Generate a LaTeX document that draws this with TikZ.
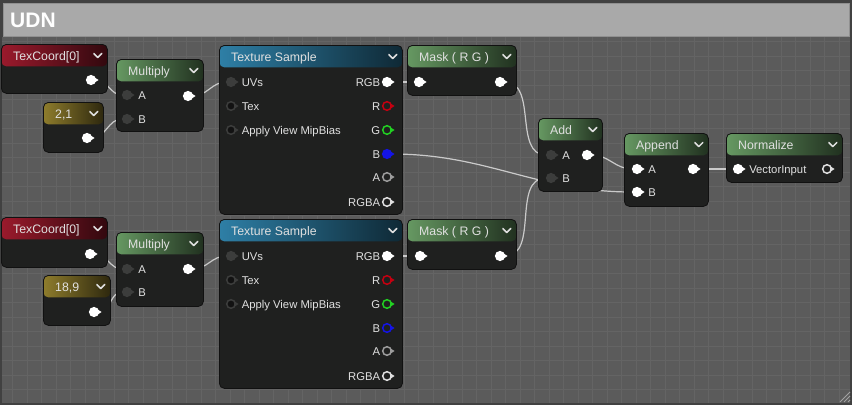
\documentclass[tikz,border=0pt]{standalone}
\usepackage{fontspec}
\setmainfont{Liberation Sans}
\usetikzlibrary{positioning,calc}

\definecolor{frameedge}{HTML}{414141}
\definecolor{canvasbg}{HTML}{5B5B5B}
\definecolor{gridline}{HTML}{646464}
\definecolor{titlebar}{HTML}{A9A9A9}
\definecolor{nodebg}{HTML}{1F201F}
\definecolor{nodeedge}{HTML}{111111}
\definecolor{hdrred}{HTML}{9A1A2C}
\definecolor{hdryellow}{HTML}{8E7C2C}
\definecolor{hdrgreen}{HTML}{669862}
\definecolor{hdrblue}{HTML}{2E7FA6}
\definecolor{wirecol}{HTML}{CACACA}
\definecolor{pindim}{HTML}{3C3D3C}
\definecolor{pinblack}{HTML}{121212}
\definecolor{pinred}{HTML}{C40010}
\definecolor{pingreen}{HTML}{22D022}
\definecolor{pinblue}{HTML}{1414E6}
\definecolor{pingray}{HTML}{9C9C9C}
\definecolor{txtcol}{HTML}{E0E0E0}

\pgfdeclarelayer{canvas}
\pgfdeclarelayer{wires}
\pgfsetlayers{canvas,wires,main}

% pin: name, position, fill, ring
\newcommand{\uepin}[4]{%
  \node[pinball, fill=#3, draw=#4] (#1) at (#2) {};
  \fill[#4] ([shift={(3.2pt,2.8pt)}]#1.center) -- ([xshift=7.6pt]#1.center) -- ([shift={(3.2pt,-2.8pt)}]#1.center) -- cycle;
}

\begin{document}
\begin{tikzpicture}[x=1pt, y=-1pt]
    \tikzstyle{pinball} = [circle, minimum size=8.6pt, inner sep=0pt, line width=1.5pt]
    \tikzstyle{hdrtxt} = [anchor=west, text=txtcol, font=\fontsize{12.3}{14}\selectfont, inner sep=0pt, text height=8.8pt, text depth=0pt]
    \tikzstyle{pinlbl} = [text=txtcol, font=\fontsize{11.3}{13}\selectfont, inner sep=0pt, text height=8.1pt, text depth=0pt]
    \tikzstyle{chev} = [draw=txtcol, line width=1.5pt, line cap=round, line join=round]
    \tikzstyle{wire} = [draw=wirecol, line width=1.2pt]
    \tikzset{uenode/.style={rectangle, rounded corners=5pt, draw=nodeedge, line width=0.8pt, fill=nodebg, anchor=north west, inner sep=0pt,
        path picture={\shade[left color=#1, right color=#1!32!black] (path picture bounding box.north west) rectangle ([yshift=-22pt]path picture bounding box.north east);}}}

    \useasboundingbox (0,0) rectangle (852,405);

    % window, title bar and grid
    \begin{pgfonlayer}{canvas}
        \fill[frameedge] (0,0) rectangle (852,405);
        \fill[canvasbg] (2,37) rectangle (850,403);
        \foreach \i in {0,...,57}
            \draw[gridline, line width=0.7pt] ({12.5+14.5*\i},37) -- ({12.5+14.5*\i},403);
        \foreach \j in {0,...,24}
            \draw[gridline, line width=0.7pt] (2,{41.5+14.5*\j}) -- (850,{41.5+14.5*\j});
        \filldraw[fill=titlebar, draw=titlebar!85!black, line width=0.8pt] (3,3) rectangle (849,36);
        \foreach \k in {0,1,2}
            \draw[gridline!60!white, line width=1pt] ({840+4*\k},402) -- (850,{392+4*\k});
    \end{pgfonlayer}
    \node[anchor=west, text=white, font=\bfseries\fontsize{21}{24}\selectfont, inner sep=0pt, text height=15pt, text depth=0pt] (title) at (10,19.5) {UDN};

    % nodes
    \node[uenode=hdrred, minimum width=106pt, minimum height=49pt] (tcA) at (1,44) {};
    \node[uenode=hdryellow, minimum width=60pt, minimum height=50pt] (cA) at (43,102) {};
    \node[uenode=hdrgreen, minimum width=87pt, minimum height=72pt] (mulA) at (116,59) {};
    \node[uenode=hdrblue, minimum width=183pt, minimum height=169pt] (tsA) at (219,45) {};
    \node[uenode=hdrgreen, minimum width=109pt, minimum height=50pt] (mskA) at (407,45) {};
    \node[uenode=hdrgreen, minimum width=64pt, minimum height=73pt] (add) at (538,118) {};
    \node[uenode=hdrgreen, minimum width=84pt, minimum height=73pt] (app) at (624,133) {};
    \node[uenode=hdrgreen, minimum width=116pt, minimum height=49pt] (nrm) at (726,133) {};
    \node[uenode=hdrred, minimum width=106pt, minimum height=50pt] (tcB) at (1,217) {};
    \node[uenode=hdryellow, minimum width=67pt, minimum height=50pt] (cB) at (43,275) {};
    \node[uenode=hdrgreen, minimum width=87pt, minimum height=74pt] (mulB) at (116,232) {};
    \node[uenode=hdrblue, minimum width=183pt, minimum height=169pt] (tsB) at (219,219) {};
    \node[uenode=hdrgreen, minimum width=109pt, minimum height=50pt] (mskB) at (407,219) {};

    % titles and chevrons
    \foreach \n/\t in {tcA/TexCoord[0], cA/{2,1}, mulA/Multiply, tsA/Texture Sample, mskA/{Mask ( R G )}, add/Add, app/Append, nrm/Normalize, tcB/TexCoord[0], cB/{18,9}, mulB/Multiply, tsB/Texture Sample, mskB/{Mask ( R G )}} {
        \node[hdrtxt] (\n-t) at ($(\n.north west)+(12,11.8)$) {\t};
        \draw[chev] ($(\n.north east)+(-14,9.5)$) -- ++(4,4) -- ++(4,-4);
    }

    % pins of the small nodes
    \uepin{tcA-o}{91,80}{white}{white}
    \uepin{cA-o}{87,138}{white}{white}
    \uepin{mulA-a}{127,95}{pindim}{pindim}
    \uepin{mulA-b}{127,119}{pindim}{pindim}
    \uepin{mulA-o}{188,96}{white}{white}
    \uepin{tcB-o}{90,254}{white}{white}
    \uepin{cB-o}{94,312}{white}{white}
    \uepin{mulB-a}{127,269}{pindim}{pindim}
    \uepin{mulB-b}{127,292}{pindim}{pindim}
    \uepin{mulB-o}{188,269}{white}{white}
    \foreach \n in {mulA, mulB} {
        \node[pinlbl, right=6pt of \n-a] (\n-al) {A};
        \node[pinlbl, right=6pt of \n-b] (\n-bl) {B};
    }

    % texture samples
    \foreach \s/\r in {tsA/82, tsB/256} {
        \uepin{\s-uv}{231,\r}{pindim}{pindim}
        \uepin{\s-tex}{231,\r+24}{pinblack}{pindim}
        \uepin{\s-mip}{231,\r+48}{pinblack}{pindim}
        \uepin{\s-rgb}{387,\r}{white}{white}
        \uepin{\s-r}{387,\r+24}{nodebg}{pinred}
        \uepin{\s-g}{387,\r+48}{nodebg}{pingreen}
        \uepin{\s-a}{387,\r+95}{nodebg}{pingray}
        \uepin{\s-rgba}{387,\r+120}{nodebg}{txtcol}
        \node[pinlbl, right=5.5pt of \s-uv] (\s-uvl) {UVs};
        \node[pinlbl, right=5.5pt of \s-tex] (\s-texl) {Tex};
        \node[pinlbl, right=5.5pt of \s-mip] (\s-mipl) {Apply View MipBias};
        \node[pinlbl, left=1.5pt of \s-rgb] (\s-rgbl) {RGB};
        \node[pinlbl, left=1.5pt of \s-r] (\s-rl) {R};
        \node[pinlbl, left=1.5pt of \s-g] (\s-gl) {G};
        \node[pinlbl, left=1.5pt of \s-a] (\s-al) {A};
        \node[pinlbl, left=1.5pt of \s-rgba] (\s-rgbal) {RGBA};
    }
    \uepin{tsA-b}{387,154}{pinblue}{pinblue}
    \uepin{tsB-b}{387,328}{nodebg}{pinblue}
    \node[pinlbl, left=1.5pt of tsA-b] (tsA-bl) {B};
    \node[pinlbl, left=1.5pt of tsB-b] (tsB-bl) {B};

    % masks, add, append, normalize
    \uepin{mskA-i}{419,82}{white}{white}
    \uepin{mskA-o}{500,82}{white}{white}
    \uepin{mskB-i}{420,256}{white}{white}
    \uepin{mskB-o}{500,256}{white}{white}
    \uepin{add-a}{551,155}{pindim}{pindim}
    \uepin{add-b}{551,178}{pindim}{pindim}
    \uepin{add-o}{587,155}{white}{white}
    \uepin{app-a}{637,169}{white}{white}
    \uepin{app-b}{637,192}{white}{white}
    \uepin{app-o}{693,169}{white}{white}
    \uepin{nrm-i}{738,169}{white}{white}
    \uepin{nrm-o}{827,169}{nodebg}{txtcol}
    \node[pinlbl, right=6pt of add-a] (add-al) {A};
    \node[pinlbl, right=6pt of add-b] (add-bl) {B};
    \node[pinlbl, right=6pt of app-a] (app-al) {A};
    \node[pinlbl, right=6pt of app-b] (app-bl) {B};
    \node[pinlbl, right=6pt of nrm-i] (nrm-il) {VectorInput};

    % wires
    \begin{pgfonlayer}{wires}
        \draw[wire] (tcA-o.east) to[out=0, in=180] (mulA-a.west);
        \draw[wire] (cA-o.east) to[out=0, in=180] (mulA-b.west);
        \draw[wire] (mulA-o.east) to[out=0, in=180] (tsA-uv.west);
        \draw[wire] (tsA-rgb.east) -- (mskA-i.west);
        \draw[wire] (tcB-o.east) to[out=0, in=180] (mulB-a.west);
        \draw[wire] (cB-o.east) to[out=0, in=180] (mulB-b.west);
        \draw[wire] (mulB-o.east) to[out=0, in=180] (tsB-uv.west);
        \draw[wire] (tsB-rgb.east) -- (mskB-i.west);
        \draw[wire] (mskA-o.east) to[out=0, in=180] (add-a.west);
        \draw[wire] (mskB-o.east) to[out=0, in=180] (add-b.west);
        \draw[wire] (tsA-b.east) to[out=0, in=180] (app-b.west);
        \draw[wire] (add-o.east) to[out=0, in=180] (app-a.west);
        \draw[wire] (app-o.east) -- (nrm-i.west);
    \end{pgfonlayer}
\end{tikzpicture}
\end{document}
